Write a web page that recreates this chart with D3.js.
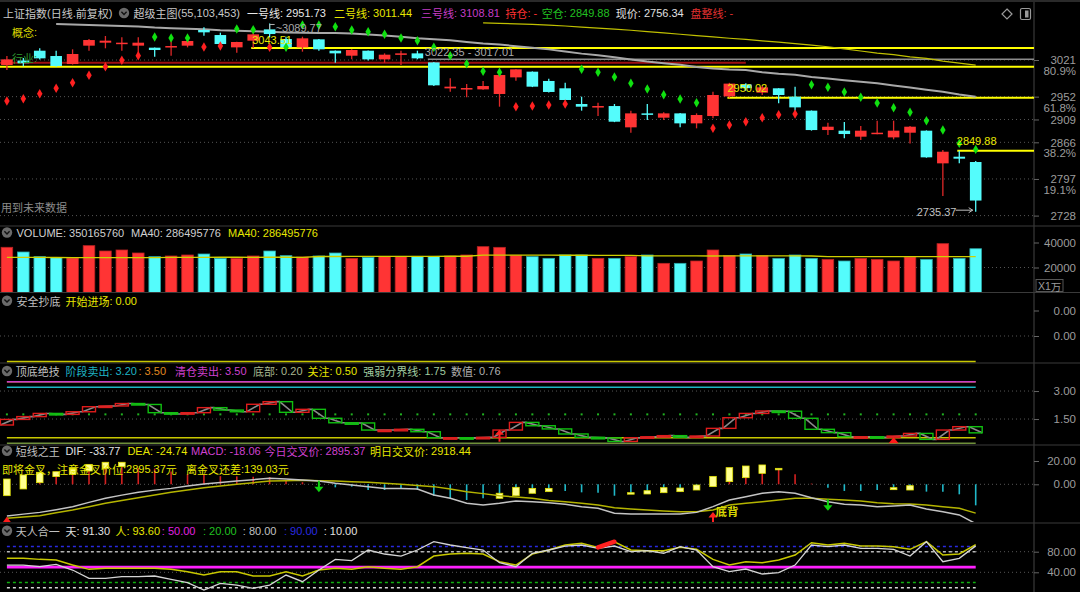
<!DOCTYPE html>
<html><head><meta charset="utf-8">
<script src="https://cdn.jsdelivr.net/npm/d3@7/dist/d3.min.js"></script>
<style>html,body{margin:0;padding:0;background:#000;overflow:hidden}svg{display:block}</style>
</head><body>
<svg id="chart" width="1080" height="592"></svg>
<script>
// ---------------- DATA ----------------
const N = 60;
const opens = [3011.6,3020,3038.5,3028.5,3013.4,3048,3053.6,3052.4,3048,3044.2,
 3044.8,3048,3077.5,3068,3044.8,3057.4,3078.7,3060.5,3044.8,3059.9,
 3038.5,3029.1,3038.5,3022.2,3031,3033.5,3016.5,2967.6,2965.7,2965.7,
 2957,2988.3,2999,2981.5,2967.7,2938.1,2931.8,2934.3,2894.2,2920.5,
 2912.4,2920.5,2901.7,2915.5,2952.5,2975,2959.5,2967.7,2951.9,2925.6,
 2889.1,2887.9,2876.6,2881.6,2875.3,2884.1,2887.9,2826.4,2838.9,2828.9];
const closes = [3022.2,3015,3024.1,3009.7,3032.3,3058.6,3057.4,3053.6,3053.6,3039.8,
 3047.3,3056.8,3073.1,3051.1,3054.9,3069.3,3069.9,3044.8,3061.8,3041.1,
 3033.5,3039.8,3022.2,3031,3033.5,3024.1,2973.3,2970.8,2968.2,2972,
 2992.7,3003.4,2970.8,2960.8,2945.7,2933.1,2934.3,2904.8,2920.5,2918,
 2920.5,2901.7,2917.4,2955.1,2976.5,2968,2969.5,2955.1,2931.8,2889.1,
 2895.4,2881.6,2887.9,2884.1,2887.9,2895.4,2837.7,2848.3,2835.2,2756.34];
const highs = [3028.5,3025,3043,3038.5,3041.1,3060.5,3066.2,3063.7,3063.7,3044.6,
 3057.4,3064.9,3082.5,3072.4,3055.3,3072.4,3089.77,3064.9,3064.9,3060.5,
 3039,3041.1,3039,3033.5,3038.5,3038.5,3017.01,2986.4,2975.8,2981.4,
 2992.7,3003.4,2999.5,2985.9,2978.3,2951.9,2940.6,2938.1,2925.6,2938.1,
 2922.4,2921,2920.5,2961.3,2978,2977,2972,2968,2970.7,2926,
 2903,2904.2,2896.7,2906.7,2906.7,2896.7,2888.5,2851.5,2849.88,2830.8];
const lows = [3002.1,3009,3022,3008.4,3012.5,3038.5,3043,3038.5,3033.5,3027.3,
 3029.1,3044.8,3066.8,3050.5,3034.8,3043.51,3063.7,3039.8,3036.7,3038.5,
 3016,3022.2,3020,3016,3011.6,3022.35,2972,2961.3,2950.7,2965,
 2933.1,2982,2970,2960,2945,2925.6,2915.5,2904,2884.1,2908,
 2908,2894.2,2892.3,2911.1,2950.02,2963,2955,2939.4,2925.6,2888,
 2879.7,2873.5,2870.3,2881,2871.6,2864,2837,2764.9,2826.4,2735.37];
// stop dots (1 = red below price, 0 = green above)
const sarVals = [2943.8,2948.2,2957.6,2967.7,2978.3,2992.1,3008.5,3020.4,3029.2,3064.3,
 3062.4,3062.4,3045.5,3047.4,3079.4,3078.1,3044.9,3044.9,3086.9,3086.9,
 3083.8,3077.5,3074.4,3069.3,3062.4,3057.4,3044.9,3029.2,3014.1,2999.7,
 2997.8,2933.1,2934.4,2936.3,2938.2,3003.4,2997.8,2989,2977.1,2966.4,
 2955.7,2947.6,2940.7,2892.3,2898.6,2904.8,2912.4,2918,2919.3,2974.5,
 2969.5,2960.7,2950.7,2940,2931.2,2922.4,2906.7,2889.1,2864,2852.7];
const sarRed = [1,1,1,1,1,1,1,1,1,0, 0,0,1,1,0,0,1,0,0,0, 0,0,0,0,0,0,0,0,0,0,
 0,1,1,1,1,0,0,0,0,0, 0,0,0,1,1,1,1,1,1,0, 0,0,0,0,0,0,0,0,0,0];
// 一号线 (from bar 3) and 二号线 (from bar 29)
const line1Start = 3;
const line1 = [3089,3088,3087,3086,3085,3084,3082,3081,3080,3079,3077,3076,3075,3074,3073,3072.5,3072,3072,3071,3069,
 3067,3065,3062,3060,3058,3055,3052,3050,3047,3044,3041,3037,3033,3030,3026,3022,3018,3015,3012,3008,
 3005,3003,3002,2998,2995,2993,2989,2986,2983,2980,2977,2973,2969,2965,2961,2956,2951.73];
const line2Start = 29;
const line2 = [3091,3090,3089,3088,3086.5,3085,3083,3081,3079,3077,3074.5,
 3072,3069.5,3067,3064.5,3062,3060,3057,3054.5,3052,3049,3046,3042,3038,3034,3031,3027,3024,3019,3015,3011.44];
const line3 = 3108.81, holdLine = '-', emptyLine = 2849.88, nowPrice = 2756.34;
// horizontal levels in main chart
const yellowLevels = [{v:3043.51, from:15}, {v:2950.02, from:44}, {v:2849.88, from:58}];
const yellowFull = 3008.4;
const redLevel = {v:3016, to:45};
const gapLevel = {hi:3022.35, lo:3017.01, from:26};
const priceTicks = [3021, 2952, 2909, 2866, 2797, 2728];
const fibLabels = ['80.9%', '61.8%', '', '38.2%', '19.1%', ''];
// volume (x1万)
const volumes = [36160,32400,28667,27867,27600,37467,33200,34000,31600,28667,
 29200,30000,30800,27333,27333,29200,33200,29467,28400,29200,
 31600,27333,28133,28933,28933,28933,28933,29200,30000,36667,
 36133,29733,28667,27333,30000,30000,27333,27333,28667,30000,
 23333,23333,25200,34000,29467,30800,29467,27333,30000,27333,
 26533,25200,27333,26533,25200,28400,26533,39067,27333,35016.576];
const volMA40 = [28100,28100,28050,28000,27950,27900,27900,27900,27900,27900,
 28100,28150,28150,28200,28200,28150,28200,28200,28150,28800,
 28800,28850,28850,28900,28900,28950,28950,29000,29000,29900,
 29900,29950,29900,29850,29800,29800,29750,29750,29700,29300,
 29300,29250,29250,29200,29300,29300,29300,29250,29250,29200,
 28700,28700,28650,28650,28650,28700,28650,28700,28650,28649.5776];
const volTicks = [40000, 20000];
// 安全抄底
const safeLevel = 0.00;
const safeTicks = [0.004, 0.002];
// 顶底绝技
const tdStart = 1.18;
const tdVals = [1.48,1.63,1.80,1.75,1.89,2.16,2.20,2.33,2.28,1.84,
 1.77,1.84,2.11,1.98,1.89,2.29,2.43,1.86,2.02,1.54,
 1.30,1.29,0.91,0.91,0.95,0.82,0.50,0.50,0.49,0.52,
 0.91,1.32,1.14,0.97,0.70,0.52,0.49,0.30,0.50,0.55,
 0.61,0.52,0.59,1.00,1.57,1.80,1.93,1.92,1.54,0.95,
 0.77,0.55,0.55,0.52,0.59,0.73,0.41,0.91,1.09,0.76];
const tdLevels = [{v:3.50,c:'#e08a20',w:1.5},{v:3.50,c:'#c83cc8',w:1.5},{v:3.20,c:'#1eb4c4',w:1.5},{v:0.50,c:'#c8c800',w:1.5},{v:0.20,c:'#6f8f3a',w:1.5}];
const tdDivider = 1.75;
const tdTicks = [3.00, 1.50];
const tdArrowBars = [30], tdTriBars = [54];
// 短线之王 (MACD)
const dif = [-27.2,-25.6,-24.1,-21.8,-19.2,-15.5,-12.0,-9.3,-6.9,-5.0,
 -3.5,-1.5,0.3,1.6,2.8,4.0,5.1,4.5,3.7,2.8,
 0.9,-0.6,-2.0,-3.5,-3.5,-4.0,-9.2,-12.0,-16.3,-17.8,
 -16.3,-14.3,-14.9,-15.8,-17.2,-19.2,-20.6,-24.9,-25.5,-25.5,
 -25.5,-25.5,-24.1,-19.2,-13.5,-10.6,-7.7,-6.3,-7.7,-11.5,
 -14.9,-17.2,-17.8,-19.2,-18.6,-17.8,-21.2,-23.5,-26.3,-33.77];
const dea = [-29.2,-28.0,-26.9,-24.5,-22.1,-19.2,-16.3,-13.9,-11.5,-9.2,
 -6.9,-4.9,-2.9,-1.4,0.0,1.4,2.8,3.1,3.4,3.1,
 2.8,2.2,1.7,0.8,0.0,-1.0,-2.0,-4.0,-6.3,-8.0,
 -9.8,-11.0,-12.0,-14.0,-14.9,-16.3,-17.8,-20.1,-21.2,-22.1,
 -22.9,-23.5,-23.5,-22.1,-17.8,-16.3,-14.9,-13.5,-12.0,-12.0,
 -12.9,-13.5,-14.3,-15.8,-16.6,-16.9,-17.8,-19.2,-20.6,-24.74];
const macd = [4.5,8.0,10.3,10.8,13.7,17.1,18.9,18.9,14.0,13.5,
 11.0,8.7,8.7,7.0,6.8,6.5,6.2,3.2,1.8,-0.5,
 -2.6,-2.0,-4.9,-4.9,-4.0,-4.9,-9.8,-12.0,-13.5,-12.0,
 -12.0,-9.8,-7.7,-6.3,-5.7,-6.9,-7.2,-9.8,-8.0,-8.3,
 -7.2,-6.3,-4.9,6.8,14.3,15.7,16.6,13.7,8.6,0.6,
 -2.9,-5.7,-5.7,-4.9,-4.6,-4.9,-6.3,-6.3,-8.6,-18.06];
const macdBoxBars = [0,1,2,3,4,5,6,7,30,31,32,33,38,39,40,41,42,43,44,45,46,47,54,55];
const macdBoxHi =   [4.55,8.0,10.3,10.8,13.7,17.1,18.9,18.9,-7.7,-2.6,-3.5,-3.5,-7.2,-5.5,-2.9,-3.2,-0.6,6.8,14.3,15.7,16.6,13.7,-2.9,-1.2];
const macdBoxLo =   [-9.75,-4.0,1.4,6.6,8.6,11.4,13.7,15.1,-12.0,-9.8,-7.7,-6.3,-8.0,-8.3,-7.2,-6.3,-4.9,-2.0,2.3,5.7,9.4,12.6,-4.6,-4.9];
const macdSellBars = [19, 50], macdBuyBars = [43], macdTriBars = [0];
const macdTicks = [20, 0];
// 天人合一
const tian = [54.1,54.1,50.9,55.4,44.4,28.3,28.3,31.5,31.5,32.8,
 26.3,19.8,5.6,18.5,15.3,8.8,15.3,34.7,21.8,44.4,
 65.1,62.6,83.3,75.5,71.6,83.3,99.4,93.0,87.8,83.3,
 58.7,50.9,76.8,83.3,91.0,93.0,86.5,91.0,80.0,82.0,
 76.8,89.7,83.3,50.9,41.2,46.4,36.7,39.3,54.1,93.0,
 89.7,93.0,86.5,86.5,84.6,71.6,99.4,60.6,67.1,91.3];
const ren = [67.1,67.1,65.1,63.9,54.1,45.7,47.7,47.7,47.7,47.7,
 45.7,41.2,34.7,41.2,41.2,32.8,32.8,41.2,32.8,44.4,
 47.7,45.7,50.9,47.7,45.7,50.9,71.6,75.5,76.8,75.5,
 60.6,54.1,75.5,83.3,93.0,96.2,88.4,99.4,83.3,82.0,
 82.0,88.4,84.6,65.1,54.1,60.6,58.7,63.9,73.6,97.5,
 93.0,96.2,91.0,91.0,89.7,84.6,99.4,73.6,75.5,93.6];
const renRedSeg = [36];
const trLevels = [{v:90,c:'#2a2ae0',dash:'3,3',w:1.5},{v:80,c:'#b8b8b8',dash:'3,3',w:1.5},{v:50,c:'#ff20ff',dash:null,w:2.6},{v:20,c:'#10b010',dash:'3,3',w:1.5},{v:10,c:'#d8d8d8',dash:'3,3',w:1.5}];
const trTicks = [80, 40];

// ---------------- DRAW ----------------
const FONT = "'Liberation Sans','Noto Sans CJK SC',sans-serif";
const CJK = "'Noto Sans CJK SC','Liberation Sans',sans-serif";
const svg = d3.select('#chart');
svg.append('rect').attr('width',1080).attr('height',592).attr('fill','#000');
const AX = 1034;
const x = d3.scalePoint().domain(d3.range(N)).range([6.9, 975.7]);
const bw = 11.6;
const UP = '#ff3434', DN = '#54fcfc';
const isUp = i => closes[i] >= opens[i];

const yMain = d3.scaleLinear().domain([2728, 3021]).range([215.6, 60]);
const yVol = d3.scaleLinear().domain([0, 40000]).range([292.5, 242.5]);
const ySafe = d3.scaleLinear().domain([0, 0.004]).range([361.5, 310.5]);
const yTD = d3.scaleLinear().domain([0.2, 3.5]).range([443.3, 381.7]);
const yMacd = d3.scaleLinear().domain([0, 20]).range([484.3, 461]);
const yTR = d3.scaleLinear().domain([40, 80]).range([572.3, 551.7]);

const defs = svg.append('defs');
function clip(id, y0, y1){ defs.append('clipPath').attr('id',id).append('rect').attr('x',0).attr('y',y0).attr('width',AX).attr('height',y1-y0); }
clip('cMain',20,225); clip('cVol',227,292); clip('cTD',364,445); clip('cMacd',446,522); clip('cTR',524,592);

[226, 292.5, 363, 445, 523].forEach(y => svg.append('line').attr('x1',0).attr('x2',1080).attr('y1',y).attr('y2',y).attr('stroke','#3a3a3a').attr('stroke-width',1.2));
svg.append('line').attr('x1',AX).attr('x2',AX).attr('y1',0).attr('y2',592).attr('stroke','#3a3a3a').attr('stroke-width',1.2);
svg.append('line').attr('x1',0).attr('x2',1080).attr('y1',1).attr('y2',1).attr('stroke','#2a2a2a').attr('stroke-width',2);

function grid(scale, vals){
  vals.forEach(v => svg.append('line').attr('x1',0).attr('x2',AX).attr('y1',scale(v)).attr('y2',scale(v))
    .attr('stroke','#555').attr('stroke-dasharray','1,3'));
}
function rightAxis(scale, ticks, fmt){
  const g = svg.append('g').attr('transform',`translate(${AX},0)`)
    .call(d3.axisRight(scale).tickValues(ticks).tickFormat(fmt).tickSize(5));
  g.select('.domain').remove();
  g.selectAll('line').attr('stroke','#666');
  g.selectAll('text').attr('x',42).attr('text-anchor','end').attr('fill','#9c9c9c')
    .attr('font-size',11.5).attr('font-family',FONT);
  return g;
}
const RUN = /[\u3000-\u303f\u4e00-\u9fff\uff00-\uffef]+|[^\u3000-\u303f\u4e00-\u9fff\uff00-\uffef]+/g;
const isCJK = s => /[\u3000-\u303f\u4e00-\u9fff\uff00-\uffef]/.test(s);
function txt(t, xx, yy, c, size, anchor, bold){
  const el = svg.append('text').attr('x',xx).attr('y',yy).attr('fill',c)
    .attr('dominant-baseline','central').attr('text-anchor',anchor||'start');
  if (bold) el.attr('font-weight','bold');
  (String(t).match(RUN) || []).forEach(r => {
    el.append('tspan').attr('font-family', isCJK(r) ? CJK : FONT).attr('font-size', size || 11).text(r);
  });
  return el;
}
function icon(cx, cy){
  svg.append('circle').attr('cx',cx).attr('cy',cy).attr('r',5.2).attr('fill','#6a6a6a');
  svg.append('path').attr('d',`M${cx-2.6},${cy-1.2}L${cx},${cy+1.4}L${cx+2.6},${cy-1.2}`).attr('fill','none').attr('stroke','#111').attr('stroke-width',1.4);
}
function header(y, items){ items.forEach(it => txt(it.t, it.x, y, it.c)); }

// ---- MAIN PANEL ----
grid(yMain, priceTicks);
rightAxis(yMain, priceTicks, d3.format('d'));
priceTicks.forEach((v,i) => { if (fibLabels[i]) txt(fibLabels[i], 1076, yMain(v)+11, '#9c9c9c', 11.5, 'end'); });

const gm = svg.append('g').attr('clip-path','url(#cMain)');
gm.append('line').attr('x1',0).attr('x2',x(redLevel.to)).attr('y1',yMain(redLevel.v)).attr('y2',yMain(redLevel.v)).attr('stroke','#a01010').attr('stroke-width',2);
gm.append('line').attr('x1',x(gapLevel.from)-6).attr('x2',AX).attr('y1',yMain(gapLevel.hi)).attr('y2',yMain(gapLevel.hi)).attr('stroke','#8c8c8c').attr('stroke-width',1.6);
gm.append('line').attr('x1',0).attr('x2',AX).attr('y1',yMain(yellowFull)).attr('y2',yMain(yellowFull)).attr('stroke','#ffff00').attr('stroke-width',2);
yellowLevels.forEach(l => gm.append('line').attr('x1',x(l.from)-2).attr('x2',AX).attr('y1',yMain(l.v)).attr('y2',yMain(l.v)).attr('stroke','#ffff00').attr('stroke-width',2));
gm.append('path').datum(line1).attr('fill','none').attr('stroke','#a8a8a8').attr('stroke-width',2)
  .attr('d', d3.line().x((d,i)=>x(i+line1Start)).y(d=>yMain(d)));
gm.append('path').datum(line2).attr('fill','none').attr('stroke','#c0c000').attr('stroke-width',1.2)
  .attr('d', d3.line().x((d,i)=>x(i+line2Start)).y(d=>yMain(d)));
const cg = gm.append('g');
d3.range(N).forEach(i => {
  const col = isUp(i) ? UP : DN;
  cg.append('line').attr('x1',x(i)).attr('x2',x(i)).attr('y1',yMain(highs[i])).attr('y2',yMain(lows[i])).attr('stroke', isUp(i)?'#e02828':DN).attr('stroke-width',1.3);
  const y0 = yMain(Math.max(opens[i],closes[i])), y1 = yMain(Math.min(opens[i],closes[i]));
  cg.append('rect').attr('x',x(i)-bw/2).attr('y',y0).attr('width',bw).attr('height',Math.max(1.5,y1-y0)).attr('fill',col);
});
d3.range(N).forEach(i => {
  gm.append('path').attr('d', d3.symbol().type(d3.symbolDiamond).size(26)())
    .attr('transform',`translate(${x(i)},${yMain(sarVals[i])})`)
    .attr('fill', sarRed[i] ? '#ff2020' : '#10e010');
});
const hiIdx = highs.indexOf(d3.max(highs)), loIdx = lows.indexOf(d3.min(lows));
svg.append('path').attr('d',`M${x(hiIdx)},${yMain(highs[hiIdx])+7}V${yMain(highs[hiIdx])+1}H${x(hiIdx)+5}`).attr('fill','none').attr('stroke','#b0b0b0').attr('stroke-width',1);
txt('~' + d3.format('.2f')(highs[hiIdx]), x(hiIdx)+6, yMain(highs[hiIdx])+4.5, '#a8a8a8');
txt(d3.format('.2f')(yellowLevels[0].v), x(yellowLevels[0].from)-1, yMain(yellowLevels[0].v)-8, '#e8e800');
txt(`${gapLevel.hi.toFixed(2)} - ${gapLevel.lo.toFixed(2)}`, x(gapLevel.from)-9, yMain(gapLevel.hi)-7, '#a8a8a8');
txt(d3.format('.2f')(yellowLevels[1].v), x(yellowLevels[1].from)-2, yMain(yellowLevels[1].v)-10, '#e8e800');
txt(d3.format('.2f')(yellowLevels[2].v), x(yellowLevels[2].from)-2.5, yMain(yellowLevels[2].v)-9.5, '#e8e800');
txt(d3.format('.2f')(lows[loIdx]), x(loIdx)-59, yMain(lows[loIdx]), '#c0c0c0');
svg.append('line').attr('x1',x(loIdx)-20).attr('x2',x(loIdx)-3).attr('y1',yMain(lows[loIdx])-1.5).attr('y2',yMain(lows[loIdx])-1.5).attr('stroke','#c0c0c0');
svg.append('path').attr('d',`M${x(loIdx)-3},${yMain(lows[loIdx])-1.5}l-4,-2.5M${x(loIdx)-3},${yMain(lows[loIdx])-1.5}l-4,2.5`).attr('stroke','#c0c0c0').attr('fill','none');
txt('概念:', 12, 32, '#d8d800');
txt('行业:', 12, 58, '#2e9a2e');
txt('用到未来数据', 1, 207, '#8c8c8c');
txt('上证指数(日线.前复权)', 3, 13, '#c8c8c8');
icon(124, 13);
header(13, [
  {t:'超级主图(55,103,453)', x:133.6, c:'#c8c8c8'},
  {t:'一号线: ' + line1[line1.length-1], x:247, c:'#e8e8e8'},
  {t:'二号线: ' + line2[line2.length-1], x:334, c:'#e6e600'},
  {t:'三号线: ' + line3, x:421, c:'#c63cc6'},
  {t:'持仓: ' + holdLine, x:505.5, c:'#ff3030'},
  {t:'空仓: ' + emptyLine, x:541.7, c:'#20c020'},
  {t:'现价: ' + nowPrice, x:615.8, c:'#e0e0e0'},
  {t:'盘整线: -', x:690.5, c:'#e03030'}]);
svg.append('path').attr('d','M1007,9l5,5l-5,5l-5,-5z').attr('fill','none').attr('stroke','#9a9a9a').attr('stroke-width',1.2);
svg.append('rect').attr('x',1020.5).attr('y',8.5).attr('width',10).attr('height',11).attr('rx',1.5).attr('fill','none').attr('stroke','#9a9a9a').attr('stroke-width',1.2);
svg.append('rect').attr('x',1025).attr('y',10.5).attr('width',3.5).attr('height',7).attr('fill','#9a9a9a');

// ---- VOLUME ----
grid(yVol, [20000]);
rightAxis(yVol, volTicks, d3.format('d'));
svg.append('rect').attr('x',1036).attr('y',279.5).attr('width',27).attr('height',12).attr('fill','none').attr('stroke','#555');
txt('X1万', 1038, 286, '#9c9c9c', 10.5);
const gv = svg.append('g').attr('clip-path','url(#cVol)');
d3.range(N).forEach(i => {
  gv.append('rect').attr('x',x(i)-bw/2).attr('y',yVol(volumes[i])).attr('width',bw).attr('height',yVol(0)-yVol(volumes[i]))
    .attr('fill', isUp(i)?UP:DN).attr('stroke', isUp(i)?'#b82222':'#2aa8a8').attr('stroke-width',0.8);
});
gv.append('path').datum(volMA40).attr('fill','none').attr('stroke','#d0d000').attr('stroke-width',1.3)
  .attr('d', d3.line().x((d,i)=>x(i)).y(d=>yVol(d)));
icon(7, 232.5);
header(232.5, [
  {t:'VOLUME: 350165760', x:16.5, c:'#d0d0d0'},
  {t:'MA40: 286495776', x:131, c:'#d0d0d0'},
  {t:'MA40: 286495776', x:228, c:'#e6e600'}]);

// ---- 安全抄底 ----
grid(ySafe, [0.002]);
rightAxis(ySafe, safeTicks, d3.format('.2f'));
svg.append('line').attr('x1',x(0)).attr('x2',x(N-1)).attr('y1',ySafe(safeLevel)).attr('y2',ySafe(safeLevel)).attr('stroke','#c8c800').attr('stroke-width',1.5);
icon(7, 300.7);
header(300.7, [{t:'安全抄底', x:16.5, c:'#c0c0c0'}, {t:'开始进场: 0.00', x:65.4, c:'#e6e600'}]);

// ---- 顶底绝技 ----
grid(yTD, tdTicks);
rightAxis(yTD, tdTicks, d3.format('.2f'));
const gt = svg.append('g').attr('clip-path','url(#cTD)');
tdLevels.forEach(l => gt.append('line').attr('x1',x(0)).attr('x2',x(N-1)).attr('y1',yTD(l.v)).attr('y2',yTD(l.v)).attr('stroke',l.c).attr('stroke-width',l.w));
d3.range(N).forEach(i => gt.append('rect').attr('x',x(i)-1).attr('y',yTD(tdDivider)-1).attr('width',2).attr('height',2).attr('fill','#20b020'));
const tbw = 13;
const tdPts = [];
d3.range(N).forEach(i => { const p = i ? tdVals[i-1] : tdStart; tdPts.push([x(i)-tbw/2, p], [x(i)+tbw/2, tdVals[i]]); });
gt.append('path').datum(tdPts).attr('fill','none').attr('stroke','#8a8a8a').attr('stroke-width',1.6)
  .attr('d', d3.line().x(d=>d[0]).y(d=>yTD(d[1])));
d3.range(N).forEach(i => {
  const p = i ? tdVals[i-1] : tdStart, c = tdVals[i];
  const y0 = yTD(Math.max(p,c)), y1 = yTD(Math.min(p,c));
  gt.append('rect').attr('x',x(i)-tbw/2).attr('y',y0).attr('width',tbw).attr('height',Math.max(1.5,y1-y0))
    .attr('fill','none').attr('stroke', c>=p ? '#e01c1c' : '#10c010').attr('stroke-width',1.4);
});
tdArrowBars.forEach(i => {
  const top = yTD(0.5)-8;
  gt.append('path').attr('d',`M${x(i)},${top}l-4.5,5h9z`).attr('fill','#ff2020');
  gt.append('line').attr('x1',x(i)).attr('x2',x(i)).attr('y1',top+4).attr('y2',top+12).attr('stroke','#ff2020').attr('stroke-width',2);
});
tdTriBars.forEach(i => gt.append('path').attr('d',`M${x(i)},${yTD(0.2)-6}l-5,6h10z`).attr('fill','#ff1a1a'));
icon(7, 371);
header(371, [
  {t:'顶底绝技', x:15.8, c:'#c0c0c0'},
  {t:'阶段卖出: 3.20', x:65.4, c:'#1eb4c4'},
  {t:': 3.50', x:138.5, c:'#e08a20'},
  {t:'清仓卖出: 3.50', x:175, c:'#d040d0'},
  {t:'底部: 0.20', x:253, c:'#a8b890'},
  {t:'关注: 0.50', x:307.5, c:'#e6e600'},
  {t:'强弱分界线: 1.75', x:363.3, c:'#a0cca0'},
  {t:'数值: ' + tdVals[N-1].toFixed(2), x:451, c:'#b0b0b0'}]);

// ---- 短线之王 ----
grid(yMacd, [0]);
rightAxis(yMacd, macdTicks, d3.format('.2f'));
const gc = svg.append('g').attr('clip-path','url(#cMacd)');
d3.range(N).forEach(i => {
  gc.append('line').attr('x1',x(i)).attr('x2',x(i)).attr('y1',yMacd(0)).attr('y2',yMacd(macd[i]))
    .attr('stroke', macd[i]>=0 ? '#d42020' : '#20b8c8').attr('stroke-width',1.6);
});
macdBoxBars.forEach((b,k) => {
  const y0 = yMacd(macdBoxHi[k]), y1 = yMacd(macdBoxLo[k]);
  gc.append('rect').attr('x',x(b)-3.3).attr('y',y0).attr('width',6.6).attr('height',Math.max(1.5,y1-y0))
    .attr('fill','#ffff90').attr('stroke','#e0e000').attr('stroke-width',0.8);
});
gc.append('path').datum(dea).attr('fill','none').attr('stroke','#b4b400').attr('stroke-width',1.5)
  .attr('d', d3.line().x((d,i)=>x(i)).y(d=>yMacd(d)));
gc.append('path').datum(dif).attr('fill','none').attr('stroke','#c4c4c4').attr('stroke-width',1.5)
  .attr('d', d3.line().x((d,i)=>x(i)).y(d=>yMacd(d)));
macdSellBars.forEach(i => {
  const t = yMacd(dea[i]);
  gc.append('line').attr('x1',x(i)).attr('x2',x(i)).attr('y1',t).attr('y2',t+7).attr('stroke','#10d010').attr('stroke-width',2);
  gc.append('path').attr('d',`M${x(i)},${t+11.5}l-4.5,-5.5h9z`).attr('fill','#10d010');
});
macdBuyBars.forEach(i => {
  const t = yMacd(dea[i])+2;
  gc.append('path').attr('d',`M${x(i)},${t}l-4.5,5.5h9z`).attr('fill','#ff2020');
  gc.append('line').attr('x1',x(i)).attr('x2',x(i)).attr('y1',t+4).attr('y2',t+12).attr('stroke','#ff2020').attr('stroke-width',2);
  txt('底背', x(i)+2.5, t-1, '#d8d800', 11.5, 'start', true);
});
macdTriBars.forEach(i => gc.append('path').attr('d',`M${x(i)},${yMacd(dea[i])-1.5}l-4.5,6h9z`).attr('fill','#ff1a1a'));
icon(7, 450.7);
header(450.7, [
  {t:'短线之王', x:15.8, c:'#c0c0c0'},
  {t:'DIF: ' + dif[N-1].toFixed(2), x:65.4, c:'#e0e0e0'},
  {t:'DEA: ' + dea[N-1].toFixed(2), x:127.4, c:'#e6e600'},
  {t:'MACD: ' + macd[N-1].toFixed(2), x:191, c:'#d040d0'},
  {t:'今日交叉价: 2895.37', x:264.5, c:'#d040d0'},
  {t:'明日交叉价: 2918.44', x:370, c:'#e6e600'}]);
header(469.3, [
  {t:'即将金叉，注意金叉价位:2895.37元', x:2, c:'#e6e600'},
  {t:'离金叉还差:139.03元', x:186, c:'#e6e600'}]);

// ---- 天人合一 ----
grid(yTR, trTicks);
rightAxis(yTR, trTicks, d3.format('.2f'));
const gr = svg.append('g').attr('clip-path','url(#cTR)');
trLevels.forEach(l => {
  const ln = gr.append('line').attr('x1',x(0)).attr('x2',x(N-1)).attr('y1',yTR(l.v)).attr('y2',yTR(l.v)).attr('stroke',l.c).attr('stroke-width',l.w);
  if (l.dash) ln.attr('stroke-dasharray', l.dash);
});
gr.append('path').datum(ren).attr('fill','none').attr('stroke','#c8c800').attr('stroke-width',1.5)
  .attr('d', d3.line().x((d,i)=>x(i)).y(d=>yTR(d)));
gr.append('path').datum(tian).attr('fill','none').attr('stroke','#d4d4d4').attr('stroke-width',1.3)
  .attr('d', d3.line().x((d,i)=>x(i)).y(d=>yTR(d)));
renRedSeg.forEach(i => gr.append('line').attr('x1',x(i)).attr('x2',x(i+1)).attr('y1',yTR(ren[i])).attr('y2',yTR(ren[i+1]))
  .attr('stroke','#ff2020').attr('stroke-width',4.5).attr('stroke-linecap','round'));
icon(7, 530.7);
header(530.7, [
  {t:'天人合一', x:15.8, c:'#c0c0c0'},
  {t:'天: ' + tian[N-1].toFixed(2), x:65.4, c:'#e0e0e0'},
  {t:'人: ' + ren[N-1].toFixed(2), x:115.4, c:'#e6e600'},
  {t:': 50.00', x:161.8, c:'#e020e0'},
  {t:': 20.00', x:203, c:'#20c020'},
  {t:': 80.00', x:242.8, c:'#c0c0c0'},
  {t:': 90.00', x:284, c:'#2a2ae0'},
  {t:': 10.00', x:323.7, c:'#e0e0e0'}]);
</script>
</body></html>
